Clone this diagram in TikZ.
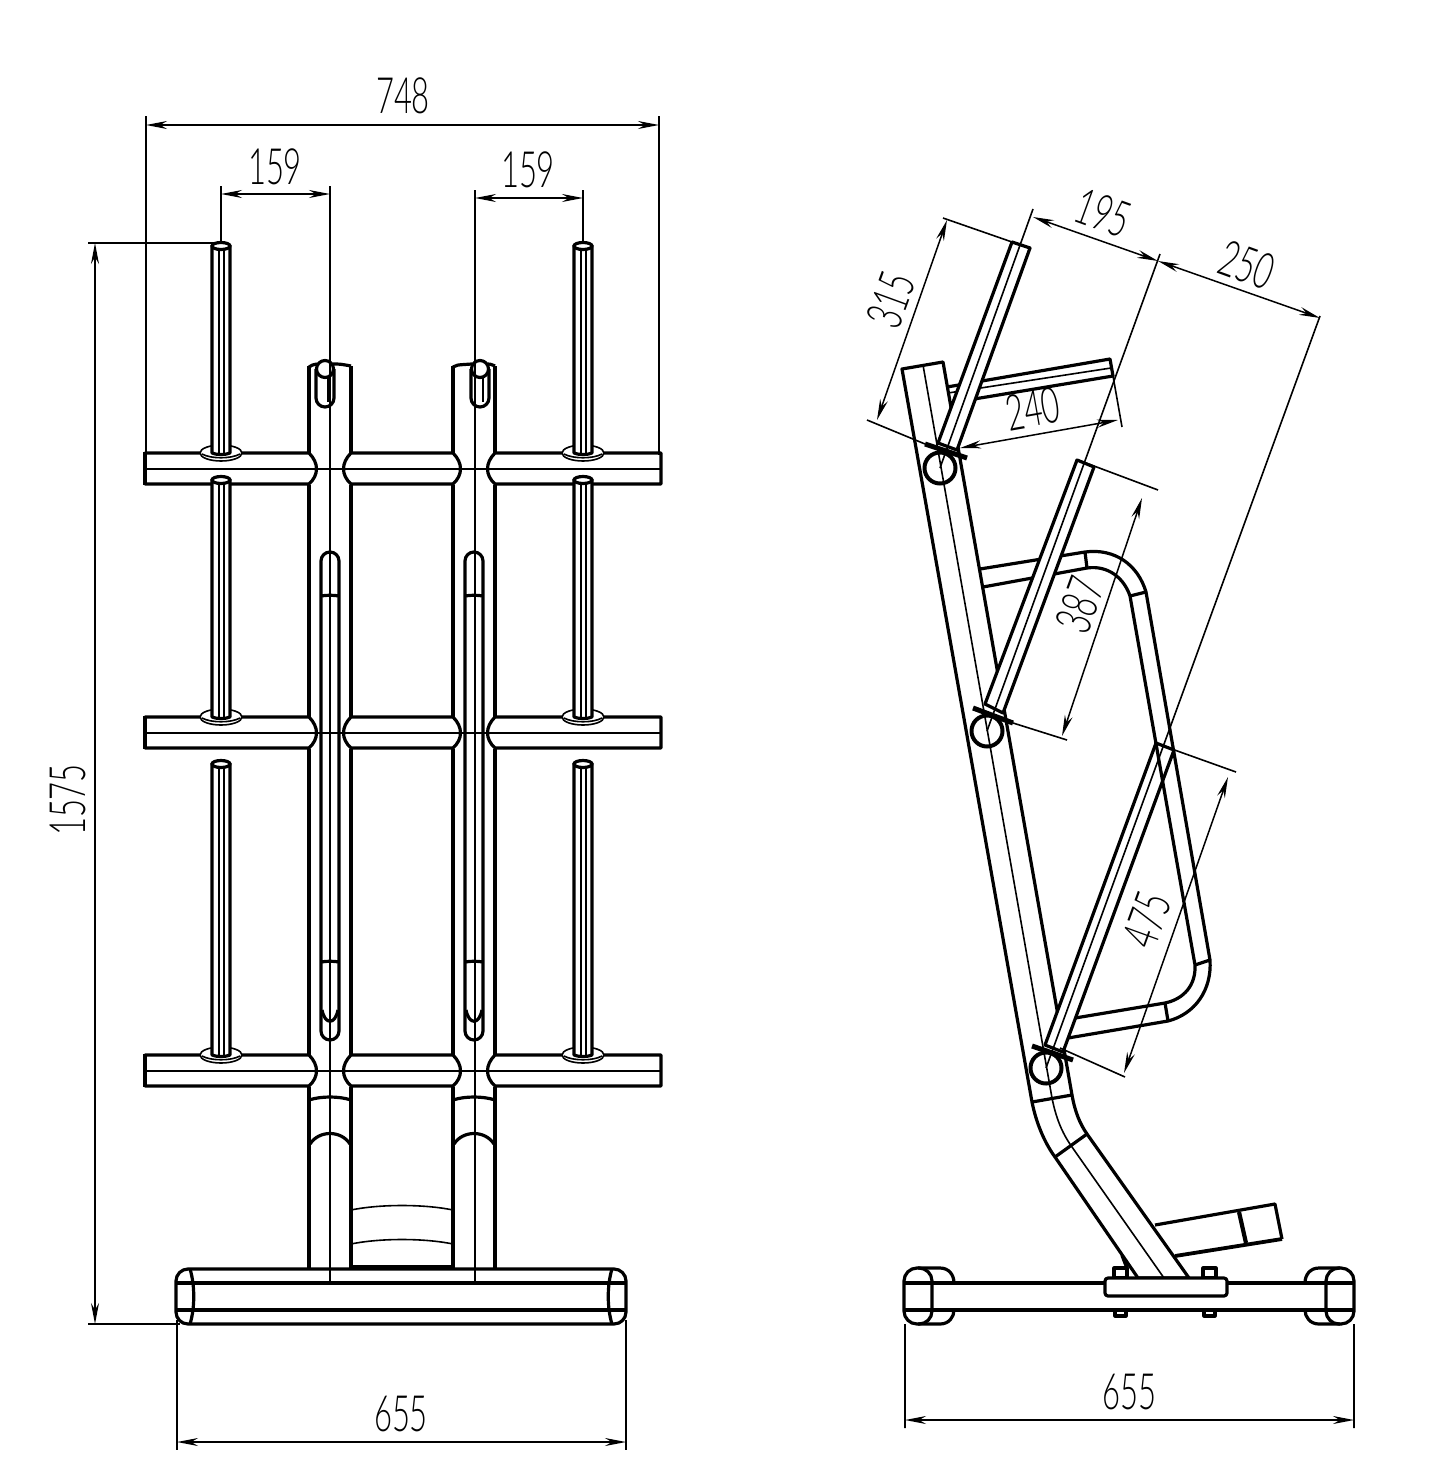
\documentclass[tikz,border=0pt]{standalone}
\usepackage{fontspec}
\usetikzlibrary{arrows.meta}
\newfontfamily\dimfont[FakeStretch=0.62]{Lato Light}

\tikzset{
    tube/.style={line width=3.2pt,line join=round},
    midline/.style={line width=1.6pt},
    pinline/.style={line width=1.1pt},
    dimline/.style={line width=1.5pt,{Stealth[length=21pt,width=8pt]}-{Stealth[length=21pt,width=8pt]}},
    dimlabel/.style={font=\dimfont\fontsize{50}{50}\selectfont,inner sep=0pt}
}

\begin{document}
\begin{tikzpicture}[x=1pt,y=-1pt]
    \useasboundingbox (0,0) rectangle (1439,1459);

    % front view: posts
    \foreach \px in {309,351,453,495} {
        \draw[tube] (\px,366) -- (\px,453)
            (\px,485) -- (\px,717)
            (\px,749) -- (\px,1055)
            (\px,1087) -- (\px,1269);
    }
    \draw[tube] (309,367) .. controls (312,365) .. (317,364) (333,364) .. controls (340,364) .. (351,366);
    \draw[tube] (453,367) .. controls (456,365) .. (472,364) (488,364) .. controls (490,364) .. (495,366);

    % front view: cross bars
    \foreach \py in {469,733,1071} {
        \draw[tube] (309,\py-16) -- (145,\py-16) -- (145,\py+15) -- (309,\py+15)
            .. controls (319,\py+6) and (319,\py-6) .. (309,\py-16);
        \draw[tube] (351,\py-16) -- (453,\py-16)
            .. controls (463,\py-6) and (463,\py+6) .. (453,\py+15)
            -- (351,\py+15)
            .. controls (341,\py+6) and (341,\py-6) .. (351,\py-16);
        \draw[tube] (495,\py-16) -- (661,\py-16) -- (661,\py+15) -- (495,\py+15)
            .. controls (485,\py+6) and (485,\py-6) .. (495,\py-16);
        \draw[line width=4.5pt] (145,\py-17) -- (145,\py+16);
        \draw[midline] (146,\py) -- (660,\py);
    }

    % front view: slots in the posts
    \foreach \sx/\cx in {321/316,465/471} {
        \draw[tube,rounded corners=9pt] (\sx,552) rectangle (\sx+18,1040);
        \draw[tube] (\sx,596) .. controls (\sx+6,595) and (\sx+12,595) .. (\sx+18,596);
        \draw[tube] (\sx,962) .. controls (\sx+6,961) and (\sx+12,961) .. (\sx+18,962);
        \draw[tube] (\sx+1,1010) .. controls (\sx+4,1025) and (\sx+14,1025) .. (\sx+17,1010);
        \draw[tube,rounded corners=9pt] (\cx,369) -- (\cx,407) -- (\cx+18,407) -- (\cx+18,369);
        \draw[pinline] (\cx+12,378) -- (\cx+12,402);
        \draw[tube,fill=white] (\cx+9,369) circle[radius=8.5pt];
    }

    % front view: lower part of the posts
    \foreach \px in {309,453} {
        \draw[tube] (\px,1100) .. controls (\px+12,1096) and (\px+30,1096) .. (\px+42,1100);
        \draw[tube] (\px+1,1144) .. controls (\px+10,1130) and (\px+32,1130) .. (\px+41,1144);
    }
    \draw[midline] (351,1210) .. controls (380,1204) and (424,1204) .. (453,1210)
        (351,1244) .. controls (380,1238) and (424,1238) .. (453,1244);
    \draw[line width=3.5pt] (351,1267) -- (453,1267);

    % front view: pins and washers
    \foreach \px in {221,583} {
        \foreach \ptop/\pbot in {243/453,477/717,761/1055} {
            \draw[midline,fill=white] (\px,\pbot) ellipse[x radius=21pt,y radius=8pt];
            \draw[midline] (\px-19,\pbot+1) .. controls (\px-10,\pbot+6) and (\px+10,\pbot+6) .. (\px+19,\pbot+1);
            \draw[tube,fill=white] (\px-9,\ptop+2) -- (\px-9,\pbot) .. controls (\px-5,\pbot+2) and (\px+5,\pbot+2) .. (\px+9,\pbot) -- (\px+9,\ptop+2);
            \draw[pinline] (\px-2,\ptop+6) -- (\px-2,\pbot)
                (\px+3,\ptop+6) -- (\px+3,\pbot);
            \draw[tube,fill=white] (\px,\ptop+3) ellipse[x radius=9pt,y radius=3.5pt];
        }
    }

    % front view: base
    \draw[tube,rounded corners=12pt] (176,1269) rectangle (626,1324);
    \draw[tube] (176,1283) -- (626,1283)
        (176,1310) -- (626,1310);
    \draw[tube] (190,1269) .. controls (195,1285) and (195,1308) .. (190,1324)
        (612,1269) .. controls (607,1285) and (607,1308) .. (612,1324);
    \draw[midline] (330,186) -- (330,1283)
        (475,190) -- (475,1283);

    % front view: dimensions
    \draw[midline] (146,116) -- (146,455)
        (659,116) -- (659,455)
        (221,186) -- (221,243)
        (583,190) -- (583,243)
        (88,243) -- (221,243)
        (88,1324) -- (180,1324)
        (177,1320) -- (177,1450)
        (626,1320) -- (626,1450);
    \draw[dimline] (146,125) -- (659,125);
    \draw[dimline] (221,194) -- (330,194);
    \draw[dimline] (475,198) -- (583,198);
    \draw[dimline] (95,243) -- (95,1324);
    \draw[dimline] (177,1442) -- (626,1442);
    \node[dimlabel] (lenA) at (403,96) {748};
    \node[dimlabel] (lenB) at (275,167) {159};
    \node[dimlabel] (lenC) at (528,170) {159};
    \node[dimlabel,rotate=90] (lenD) at (68,800) {1575};
    \node[dimlabel] (lenE) at (401,1414) {655};

    % side view: base
    \draw[tube] (903,1283) -- (1355,1283)
        (903,1310) -- (1355,1310);
    \draw[tube] (918,1268) -- (940,1268) .. controls (949,1268) and (954,1275) .. (954,1283)
        (918,1324) -- (940,1324) .. controls (949,1324) and (954,1317) .. (954,1310)
        (1340,1268) -- (1319,1268) .. controls (1310,1268) and (1305,1275) .. (1305,1283)
        (1340,1324) -- (1319,1324) .. controls (1310,1324) and (1305,1317) .. (1305,1310);
    \draw[tube,rounded corners=13pt] (904,1268) rectangle (932,1324);
    \draw[tube,rounded corners=13pt] (1326,1268) rectangle (1354,1324);
    \draw[tube,fill=white] (1114,1268) rectangle (1127,1278)
        (1203,1268) rectangle (1216,1278);
    \draw[tube,fill=white] (1115,1310) rectangle (1126,1316)
        (1204,1310) rectangle (1215,1316);
    \draw[line width=3.5pt] (1122,1255) -- (1127,1268);

    % side view: rear foot
    \draw[tube] (1155,1225) -- (1275,1204) -- (1282,1239);
    \draw[line width=3.8pt] (1175,1256) -- (1282,1239);
    \draw[line width=4.2pt] (1239,1212) -- (1246,1243);

    % side view: upper arm
    \draw[tube] (947,387) -- (1110,359) -- (1113,376) -- (950,403);
    \draw[midline] (948,393) -- (1111,368);

    % side view: main frame
    \draw[tube,fill=white] (902,369) -- (943,362) -- (1072,1095)
        .. controls (1075,1112) and (1080,1124) .. (1087,1134)
        -- (1189,1278) -- (1138,1278) -- (1055,1157)
        .. controls (1044,1142) and (1036,1122) .. (1032,1102) -- cycle;
    \draw[midline] (923,365) -- (1052,1098)
        .. controls (1056,1118) and (1062,1133) .. (1072,1147) -- (1164,1278);
    \draw[tube] (1032,1102) -- (1072,1095)
        (1055,1157) -- (1087,1134);
    \draw[tube,fill=white,rounded corners=3pt] (1105,1278) rectangle (1227,1296);

    % side view: lowest arm
    \draw[tube,fill=white] (1156,743) -- (1174,750) -- (1063,1052) -- (1045,1045) -- cycle;

    % side view: loop
    \draw[tube] (980,569) -- (1085,552)
        .. controls (1115,548) and (1138,565) .. (1146,592)
        -- (1210,960)
        .. controls (1212,990) and (1195,1014) .. (1168,1021)
        -- (1068,1038);
    \draw[tube] (983,587) -- (1087,568)
        .. controls (1108,565) and (1124,578) .. (1130,596)
        -- (1195,965)
        .. controls (1196,985) and (1184,999) .. (1165,1003)
        -- (1075,1018);
    \draw[tube] (1085,552) -- (1087,568)
        (1130,596) -- (1146,592)
        (1195,965) -- (1210,960)
        (1165,1003) -- (1168,1021);

    % side view: two upper arms
    \draw[tube,fill=white] (1012,242) -- (1030,248) -- (957,450) -- (938,443) -- cycle;
    \draw[tube,fill=white] (1077,460) -- (1094,467) -- (1003,713) -- (985,704) -- cycle;

    % side view: axes of the arms
    \draw[midline] (1033,209) -- (940,468)
        (1160,254) -- (987,731)
        (1320,316) -- (1046,1068);

    % side view: plates and rings
    \foreach \ax/\ay/\bx/\by/\rx/\ry in {925/444/967/458/940/468, 973/708/1013/723/987/731, 1032/1046/1073/1060/1046/1068} {
        \draw[line width=5pt] (\ax,\ay) -- (\bx,\by);
        \draw[line width=4pt] (\rx,\ry) circle[radius=15.5pt];
    }

    % side view: dimensions
    \draw[midline] (943,218) -- (1012,242)
        (867,420) -- (925,444)
        (1110,359) -- (1122,427)
        (1078,460) -- (1158,490)
        (1013,723) -- (1067,740)
        (1155,743) -- (1236,772)
        (1060,1048) -- (1125,1077)
        (905,1324) -- (905,1428)
        (1354,1324) -- (1354,1428);
    \draw[dimline] (947,220) -- (877,420);
    \draw[dimline] (1033,217) -- (1158,261);
    \draw[dimline] (1158,261) -- (1320,318);
    \draw[dimline] (960,448) -- (1118,420);
    \draw[dimline] (1142,498) -- (1062,736);
    \draw[dimline] (1228,777) -- (1124,1073);
    \draw[dimline] (905,1420) -- (1354,1420);
    \node[dimlabel,rotate=70] (sideA) at (891,300) {315};
    \node[dimlabel,rotate=-20] (sideB) at (1103,213) {195};
    \node[dimlabel,rotate=-20] (sideC) at (1247,265) {250};
    \node[dimlabel,rotate=10] (sideD) at (1033,409) {240};
    \node[dimlabel,rotate=70] (sideE) at (1080,605) {387};
    \node[dimlabel,rotate=70] (sideF) at (1147,920) {475};
    \node[dimlabel] (sideG) at (1129,1392) {655};
\end{tikzpicture}
\end{document}
